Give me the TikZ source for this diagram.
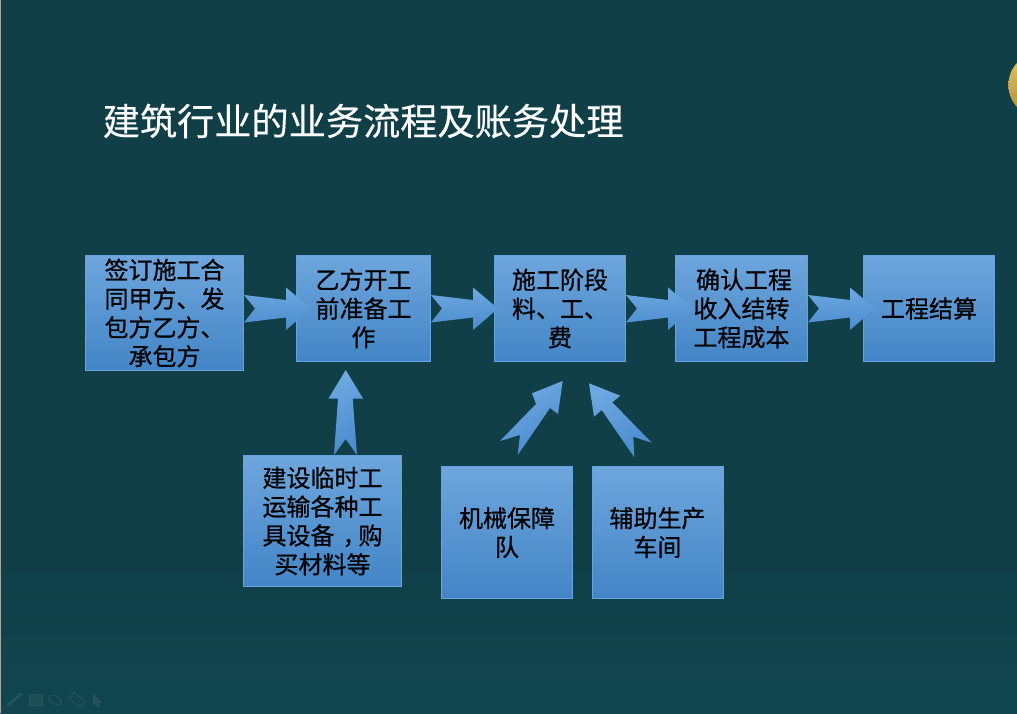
\documentclass[tikz,border=0pt]{standalone}
\usepackage{fontspec}
\setmainfont{Noto Sans CJK SC}
\newfontfamily\boxfont[FakeBold=0.7]{Noto Sans CJK SC}
\newfontfamily\headfont[FakeBold=0.25]{Noto Sans CJK SC}
\usetikzlibrary{calc}
\definecolor{bgtop}{HTML}{103F48}
\definecolor{bgbot}{HTML}{11464E}
\definecolor{boxtop}{HTML}{6EA6DD}
\definecolor{boxbot}{HTML}{4285C6}
\definecolor{boxline}{HTML}{64A3DE}
\definecolor{arrlight}{HTML}{6EA8E0}
\definecolor{arrdark}{HTML}{4A8CCE}
\definecolor{goldtop}{HTML}{E6C866}
\definecolor{goldbot}{HTML}{A98B3C}
\definecolor{faint}{HTML}{235359}
\tikzset{
  flowbox/.style={draw=boxline,line width=1pt,top color=boxtop,bottom color=boxbot,
    inner sep=0pt,align=center,text=black,font=\boxfont\fontsize{24}{28.8}\selectfont},
  blockarrow/.style={top color=arrlight,bottom color=arrdark,draw=none},
  slantarrow/.style={left color=arrlight,right color=arrdark,shading angle=25,draw=none},
  titletext/.style={inner sep=0pt,anchor=west,text=white,font=\headfont\fontsize{37.2}{44}\selectfont},
  toolicon/.style={draw=faint,line width=1pt,fill=faint!60!bgbot},
  harrow/.pic={
    \shade[blockarrow] (0,-13.5) -- (42,-8.5) -- (42,-21) -- (67,0) -- (42,21.5)
      -- (42,9) -- (0,14) -- (11,0) -- cycle;
  }
}
\begin{document}
\begin{tikzpicture}[x=1pt,y=-1pt]
\useasboundingbox (0,0) rectangle (1017,713);
\begin{scope}
\clip (0,0) rectangle (1017,713);
\fill[bgtop] (0,0) rectangle (1017,560);
\shade[top color=bgtop,bottom color=bgbot] (0,560) rectangle (1017,713);
\fill[gray!70] (0,0) rectangle (1,713);
\shade[top color=goldtop,bottom color=goldbot] (1041,85) circle (32.6);

% toolbar icons
\draw[faint,line width=3pt,line cap=round] (8,705) -- (21,694);
\draw[toolicon] (29,694.5) rectangle (42,705);
\draw[faint,line width=1pt,rotate around={-30:(55,700)}] (55,700) ellipse (6.5 and 4);
\draw[faint,line width=1pt,rotate around={-40:(77,700)}] (70,696) rectangle (84,704);
\fill[faint] (93,693) -- (102,703) -- (98,703) -- (100,707) -- (97,707) -- (95,703) -- (93,705) -- cycle;
\end{scope}

\node[titletext] (title) at (102.5,121) {建筑行业的业务流程及账务处理};

\node[flowbox,minimum width=158pt,minimum height=115pt] (b1) at (164.5,313) {签订施工合\\同甲方、发\\包方乙方、\\承包方};
\node[flowbox,minimum width=134pt,minimum height=106pt] (b2) at (363.5,308.5) {乙方开工\\前准备工\\作};
\node[flowbox,minimum width=131pt,minimum height=106pt] (b3) at (560,308.5) {施工阶段\\料、工、\\费};
\node[flowbox,minimum width=132pt,minimum height=106pt] (b4) at (741.5,308.5) {\hspace*{5pt}确认工程\\收入结转\\工程成本};
\node[flowbox,minimum width=131pt,minimum height=106pt] (b5) at (929,308.5) {工程结算};
\node[flowbox,minimum width=158pt,minimum height=131pt] (b6) at (322.5,521) {建设临时工\\运输各种工\\具设备\kern8pt ，\kern-8pt 购\\买材料等};
\node[flowbox,minimum width=131pt,minimum height=132pt] (b7) at (507,532.5) {机械保障\\队};
\node[flowbox,minimum width=131pt,minimum height=132pt] (b8) at (657.5,532.5) {辅助生产\\车间};

\pic at (b1.east |- b2.west) {harrow};
\pic at (b2.east |- b3.west) {harrow};
\pic at (b3.east |- b4.west) {harrow};
\pic at (b4.east |- b5.west) {harrow};

% b6 -> b2
\begin{scope}[shift={(b6.north)}]
  \shade[slantarrow] (23.2,-85) -- (40.5,-56.5) -- (30.2,-56.5) -- (34.5,0)
    -- (23.2,-16) -- (11.5,0) -- (15.5,-56.5) -- (6,-56.5) -- cycle;
\end{scope}
% b7 -> b3
\begin{scope}[shift={(b7.north)}]
  \shade[slantarrow] (55.7,-85) -- (51,-52) -- (43,-58) -- (10.7,-11) -- (13,-31)
    -- (-7,-25) -- (29,-62) -- (25,-72.7) -- cycle;
\end{scope}
% b8 -> b3
\begin{scope}[shift={(b8.north)}]
  \shade[slantarrow] (-68.5,-82.7) -- (-37.2,-70.3) -- (-45.2,-63.7) -- (-5.8,-23.3)
    -- (-24.2,-29.3) -- (-23.2,-8.7) -- (-55.8,-56) -- (-63.5,-49.3) -- cycle;
\end{scope}
\end{tikzpicture}
\end{document}
